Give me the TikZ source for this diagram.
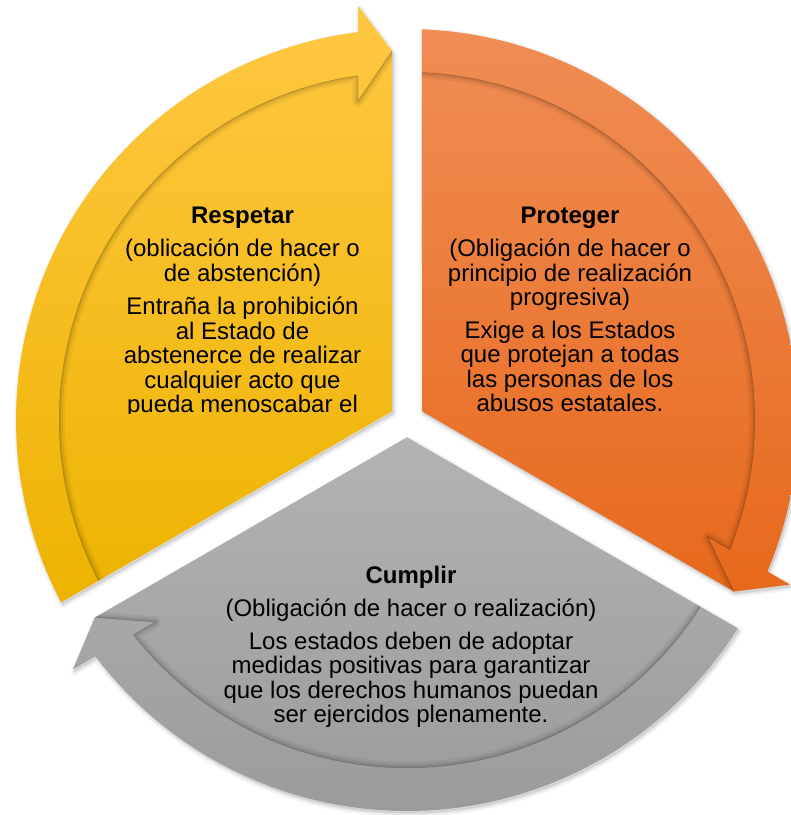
\documentclass[tikz,border=0pt]{standalone}
\usepackage{fontspec}
\setmainfont{Liberation Sans}
\definecolor{yTop}{HTML}{FFC843}
\definecolor{yBot}{HTML}{EDB300}
\definecolor{oTop}{HTML}{F08D55}
\definecolor{oBot}{HTML}{E7691C}
\definecolor{gTop}{HTML}{B3B3B3}
\definecolor{gBot}{HTML}{9A9A9A}
\tikzset{
  txt/.style={anchor=base, font=\fontsize{24}{25}\selectfont, inner sep=0pt, text=black},
  ttl/.style={txt, font=\fontsize{24}{25}\selectfont\bfseries},
  dropsh/.style={black, shift={(1.5pt,-2.5pt)}, line join=round},
}
\newcommand\segunion[1]{({#1+150}:17.32pt) -- ({#1+92.327}:369.5pt) -- ({#1+96.748}:417pt) -- ({#1+97.199}:391pt) arc[start angle={#1+97.199}, end angle={#1+207.801}, radius=391pt] -- cycle}
\newcommand\segridge[1]{({#1+207.530}:348pt) arc[start angle={#1+207.530}, end angle={#1+98.094}, radius=348pt] -- ({#1+98.726}:323pt) -- ({#1+92.327}:369.5pt)}
\newcommand\segbody[1]{({#1+150}:17.32pt) -- ({#1+92.327}:369.5pt) -- ({#1+98.726}:323pt) -- ({#1+98.094}:348pt) arc[start angle={#1+98.094}, end angle={#1+207.530}, radius=348pt] -- cycle}
\newcommand\drawseg[3]{%
  \fill[dropsh, opacity=0.10] \segunion{#1};
  \draw[dropsh, opacity=0.04, line width=7pt] \segunion{#1};
  \draw[dropsh, opacity=0.05, line width=3.5pt] \segunion{#1};
  \shade[top color=#2, bottom color=#3] \segunion{#1};
  \begin{scope}
    \clip \segbody{#1};
    \draw[black, opacity=0.05, line width=12pt, line join=round] \segridge{#1};
    \draw[black, opacity=0.06, line width=7pt, line join=round] \segridge{#1};
    \draw[black, opacity=0.08, line width=3.5pt, line join=round] \segridge{#1};
    \draw[black, opacity=0.14, line width=1pt, line join=round] \segridge{#1};
  \end{scope}
}
\begin{document}
\begin{tikzpicture}[x=1pt,y=1pt]
\useasboundingbox (0,0) rectangle (791,815);
\fill[white] (0,0) rectangle (791,815);
\begin{scope}[shift={(407,395)}]
  \drawseg{0}{yTop}{yBot}
  \drawseg{-120}{oTop}{oBot}
  \drawseg{-240}{gTop}{gBot}
\end{scope}
% Respetar
\begin{scope}
  \clip (0,401.5) rectangle (791,815);
  \node[ttl] (y1) at (242.5,591) {Respetar};
  \node[txt] (y2) at (242.5,558.3) {(oblicación de hacer o};
  \node[txt] (y3) at (242.5,533.7) {de abstención)};
  \node[txt] (y4) at (242.5,500.3) {Entraña la prohibición};
  \node[txt] (y5) at (242.5,475.8) {al Estado de};
  \node[txt] (y6) at (242.5,451.3) {abstenerce de realizar};
  \node[txt] (y7) at (242.5,426.8) {cualquier acto que};
  \node[txt] (y8) at (242.5,402.3) {pueda menoscabar el};
\end{scope}
% Proteger
\node[ttl] (o1) at (570,591) {Proteger};
\node[txt] (o2) at (570,558.3) {(Obligación de hacer o};
\node[txt] (o3) at (570,533.8) {principio de realización};
\node[txt] (o4) at (570,509.3) {progresiva)};
\node[txt] (o5) at (570,476.5) {Exige a los Estados};
\node[txt] (o6) at (570,452) {que protejan a todas};
\node[txt] (o7) at (570,427.5) {las personas de los};
\node[txt] (o8) at (570,403) {abusos estatales.};
% Cumplir
\node[ttl] (g1) at (411,231.7) {Cumplir};
\node[txt] (g2) at (411,198.3) {(Obligación de hacer o realización)};
\node[txt] (g3) at (411,165.5) {Los estados deben de adoptar};
\node[txt] (g4) at (411,141) {medidas positivas para garantizar};
\node[txt] (g5) at (411,116.5) {que los derechos humanos puedan};
\node[txt] (g6) at (411,92) {ser ejercidos plenamente.};
\end{tikzpicture}
\end{document}
